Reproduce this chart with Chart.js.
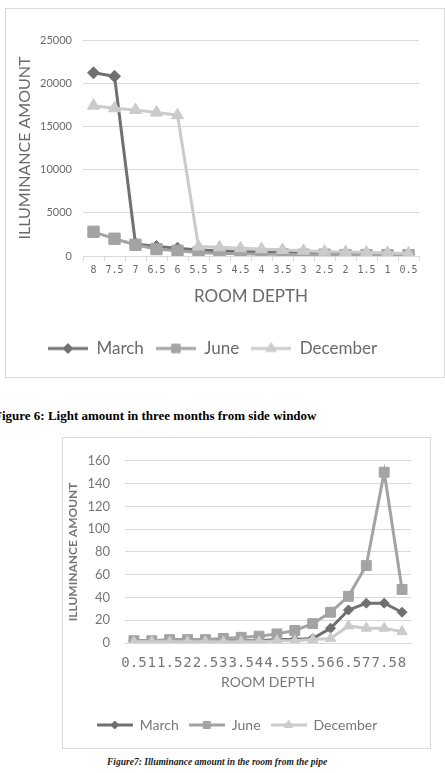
<!DOCTYPE html>
<html>
<head>
<meta charset="utf-8">
<script src="https://cdn.jsdelivr.net/npm/chart.js@4.4.1/dist/chart.umd.min.js"></script>
<style>
html, body { margin: 0; padding: 0; background: #fff; }
body { width: 445px; height: 773px; overflow: hidden; position: relative; }
.box { position: absolute; border: 1px solid #d9d9d9; box-sizing: border-box; background: #fff; }
#box1 { left: 5px; top: 8px; width: 440px; height: 370px; }
#box2 { left: 62px; top: 437px; width: 369px; height: 312px; }
.cap1 { position: absolute; left: -6px; top: 408px; font: bold 13px "Liberation Serif", serif; color: #000; white-space: nowrap; }
.cap2 { position: absolute; left: 107px; top: 757px; font: italic bold 9.5px "Liberation Serif", serif; color: #222; white-space: nowrap; }
</style>
</head>
<body>
<div class="box" id="box1"><canvas id="chart1"></canvas></div>
<div class="cap1">Figure 6: Light amount in three months from side window</div>
<div class="box" id="box2"><canvas id="chart2"></canvas></div>
<div class="cap2">Figure7: Illuminance amount in the room from the pipe</div>
<script>
// figure 6 - side window
var depth1 = ['8', '7.5', '7', '6.5', '6', '5.5', '5', '4.5', '4', '3.5', '3', '2.5', '2', '1.5', '1', '0.5'];
var march1 = [21200, 20800, 1400, 1100, 900, 700, 600, 500, 450, 400, 350, 300, 250, 200, 200, 150];
var june1 = [2800, 2000, 1300, 800, 600, 400, 300, 250, 200, 200, 150, 150, 100, 100, 100, 100];
var december1 = [17400, 17100, 16900, 16600, 16300, 1100, 1000, 900, 800, 700, 600, 500, 450, 400, 350, 300];
var yTicks1 = [0, 5000, 10000, 15000, 20000, 25000];

// figure 7 - light pipe
var depth2 = ['0.5', '1', '1.5', '2', '2.5', '3', '3.5', '4', '4.5', '5', '5.5', '6', '6.5', '7', '7.5', '8'];
var march2 = [2, 2, 2, 2, 2, 2, 2, 2, 3, 3, 4, 13, 29, 35, 35, 27];
var june2 = [2, 2, 3, 3, 3, 4, 5, 6, 8, 11, 17, 27, 41, 68, 150, 47];
var december2 = [1, 1, 1, 1, 1, 1, 1, 1, 2, 2, 3, 4, 15, 13, 13, 10];
var yTicks2 = [0, 20, 40, 60, 80, 100, 120, 140, 160];

var seriesNames = ['March', 'June', 'December'];
var seriesColors = ['#707070', '#a3a3a3', '#cbcbcb'];
var seriesShapes = ['rectRot', 'rect', 'triangle'];

function legendIcon(color, shape, w, h, radius, lw) {
    var c = document.createElement('canvas');
    c.width = w;
    c.height = h;
    var ctx = c.getContext('2d');
    ctx.strokeStyle = color;
    ctx.fillStyle = color;
    ctx.lineWidth = lw;
    ctx.beginPath();
    ctx.moveTo(0, h / 2);
    ctx.lineTo(w, h / 2);
    ctx.stroke();
    ctx.lineWidth = 1;
    Chart.helpers.drawPoint(ctx, { pointStyle: shape, radius: radius, borderWidth: 1 }, w / 2, h / 2);
    return c;
}

function makeDatasets(values, radii, lw) {
    return values.map(function (v, i) {
        return {
            label: seriesNames[i],
            data: v,
            borderColor: seriesColors[i],
            backgroundColor: seriesColors[i],
            borderWidth: lw,
            pointStyle: seriesShapes[i],
            pointRadius: radii[i],
            pointBorderWidth: 1,
            tension: 0,
            order: 3 - i,
        };
    });
}

function makeConfig(o) {
    var icons = seriesNames.map(function (n, i) {
        return legendIcon(seriesColors[i], seriesShapes[i], o.iconW, 14, o.iconR[i], o.lineW);
    });
    return {
        type: 'line',
        data: { labels: o.labels, datasets: makeDatasets(o.series, o.radii, o.lineW) },
        options: {
            responsive: true,
            maintainAspectRatio: false,
            animation: false,
            layout: { padding: o.padding },
            plugins: {
                tooltip: { enabled: false },
                legend: {
                    position: 'bottom',
                    labels: {
                        usePointStyle: true,
                        pointStyleWidth: o.iconW,
                        padding: o.legendPad,
                        color: o.textColor,
                        font: { family: 'Lato', size: o.legendSize },
                        generateLabels: function (chart) {
                            return chart.data.datasets.map(function (ds, i) {
                                return {
                                    text: ds.label,
                                    pointStyle: icons[i],
                                    fillStyle: ds.borderColor,
                                    strokeStyle: ds.borderColor,
                                    fontColor: o.textColor,
                                    lineWidth: 0,
                                    hidden: false,
                                    datasetIndex: i,
                                };
                            });
                        },
                    },
                },
            },
            scales: {
                x: {
                    offset: true,
                    grid: { display: o.xTicks, offset: true, drawOnChartArea: false, tickLength: 5, color: '#d9d9d9' },
                    border: { display: true, color: '#d9d9d9' },
                    ticks: {
                        autoSkip: false, maxRotation: 0, minRotation: 0,
                        padding: o.xTickPad,
                        color: o.textColor,
                        font: { family: 'DejaVu Sans Mono', size: o.xTickSize },
                    },
                    title: {
                        display: true, text: 'ROOM DEPTH', color: o.textColor,
                        font: { family: 'Lato', size: o.xTitleSize },
                        padding: o.xTitlePad,
                    },
                    afterFit: function (s) { s.height = o.xHeight; },
                },
                y: {
                    min: o.yTicks[0],
                    max: o.yTicks[o.yTicks.length - 1],
                    afterBuildTicks: function (s) {
                        s.ticks = o.yTicks.map(function (v) { return { value: v }; });
                    },
                    grid: { color: '#d9d9d9', drawTicks: false },
                    border: { display: false },
                    ticks: {
                        padding: o.yTickPad,
                        color: o.textColor,
                        font: { family: 'Lato', size: o.yTickSize },
                        callback: function (v) { return String(v); },
                    },
                    title: {
                        display: true, text: 'ILLUMINANCE AMOUNT', color: o.textColor,
                        font: { family: 'Lato', size: o.yTitleSize, weight: o.yTitleWeight },
                        padding: { top: o.yTitleTop, bottom: 0 },
                    },
                    afterFit: function (s) { s.width = o.yWidth; },
                },
            },
        },
    };
}

new Chart(document.getElementById('chart1'), makeConfig({
    labels: depth1,
    series: [march1, june1, december1],
    yTicks: yTicks1,
    radii: [6, 8, 7],
    iconR: [5, 6, 6],
    iconW: 40,
    lineW: 3,
    padding: { top: 31, right: 25, left: 0, bottom: 10 },
    textColor: '#6a6a6a',
    legendPad: 12,
    legendSize: 17,
    xTicks: true,
    xTickPad: 3,
    xTickSize: 10,
    xTitleSize: 17,
    xTitlePad: { top: 10, bottom: 21 },
    xHeight: 72,
    yTickPad: 11,
    yTickSize: 11,
    yTitleSize: 16,
    yTitleWeight: 'normal',
    yTitleTop: 9,
    yWidth: 77,
}));

new Chart(document.getElementById('chart2'), makeConfig({
    labels: depth2,
    series: [march2, june2, december2],
    yTicks: yTicks2,
    radii: [5, 7, 6],
    iconR: [4, 5, 5],
    iconW: 36,
    lineW: 3,
    padding: { top: 17, right: 19, left: 0, bottom: 6 },
    textColor: '#777777',
    legendPad: 10,
    legendSize: 14,
    xTicks: false,
    xTickPad: 7,
    xTickSize: 14,
    xTitleSize: 14,
    xTitlePad: { top: 5, bottom: 17 },
    xHeight: 65,
    yTickPad: 15,
    yTickSize: 13,
    yTitleSize: 12,
    yTitleWeight: 'bold',
    yTitleTop: 3,
    yWidth: 62,
}));
</script>
</body>
</html>
